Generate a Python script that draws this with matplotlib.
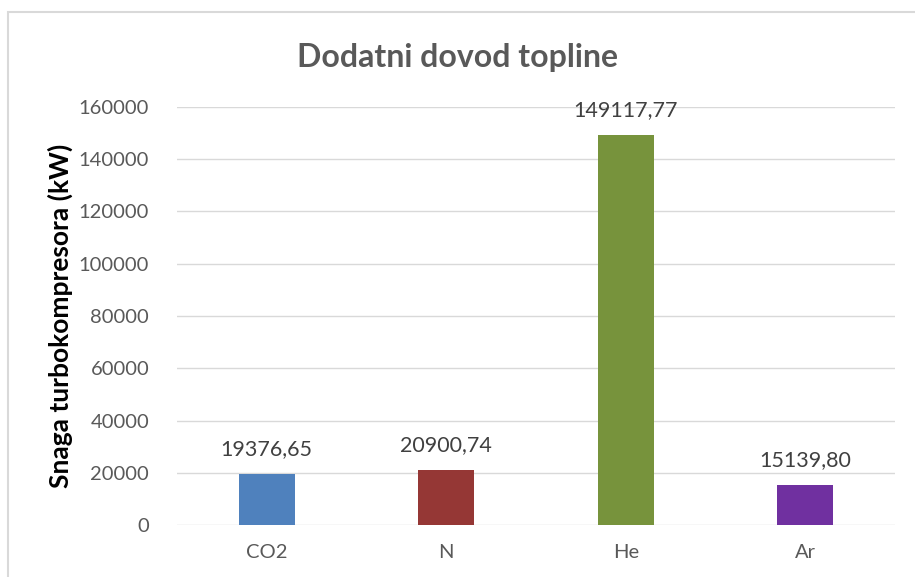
import matplotlib
matplotlib.use("Agg")
import matplotlib.pyplot as plt
from matplotlib.patches import Rectangle

categories = ["CO2", "N", "He", "Ar"]
values = [19376.65, 20900.74, 149117.77, 15139.80]
value_labels = ["19376,65", "20900,74", "149117,77", "15139,80"]
colors = ["#4F81BD", "#953735", "#77933C", "#7030A0"]
yticks = [0, 20000, 40000, 60000, 80000, 100000, 120000, 140000, 160000]

plt.rcParams['font.family'] = ['Lato', 'DejaVu Sans']

fig = plt.figure(figsize=(9.15, 5.77), dpi=100)
fig.patch.set_facecolor("white")
# outer chart border (partially cropped)
fig.add_artist(Rectangle((8/915, -0.1), 1.2, 1 - 12/577 + 0.1, transform=fig.transFigure,
                         fill=False, edgecolor="#D9D9D9", linewidth=1.5))

ax = fig.add_axes([177/915, (577-525)/577, (895-177)/915, (525-107)/577])
x = range(len(categories))
ax.bar(x, values, width=0.31, color=colors, zorder=3)
ax.set_xlim(-0.5, len(categories) - 0.5)
ax.set_ylim(0, 160000)
ax.set_yticks(yticks)
ax.set_yticklabels([str(t) for t in yticks])
ax.set_xticks(list(x))
ax.set_xticklabels(categories)
ax.grid(axis="y", color="#D9D9D9", linewidth=1, zorder=0)
for s in ax.spines.values():
    s.set_visible(False)
ax.tick_params(axis="both", length=0, labelsize=14.5, colors="#595959")
ax.tick_params(axis="y", pad=20)
ax.tick_params(axis="x", pad=14)

for xi, v, lab in zip(x, values, value_labels):
    ax.annotate(lab, (xi, v), xytext=(0, 11), textcoords="offset points",
                ha="center", va="bottom", fontsize=15.5, color="#404040")

ax.set_ylabel("Snaga turbokompresora (kW)", fontsize=19, fontweight="bold",
              color="black", labelpad=4)
fig.text(458/915, 1 - 57/577, "Dodatni dovod topline", ha="center", va="center",
         fontsize=23, fontweight="bold", color="#595959")

fig.savefig("out.png", dpi=100)
